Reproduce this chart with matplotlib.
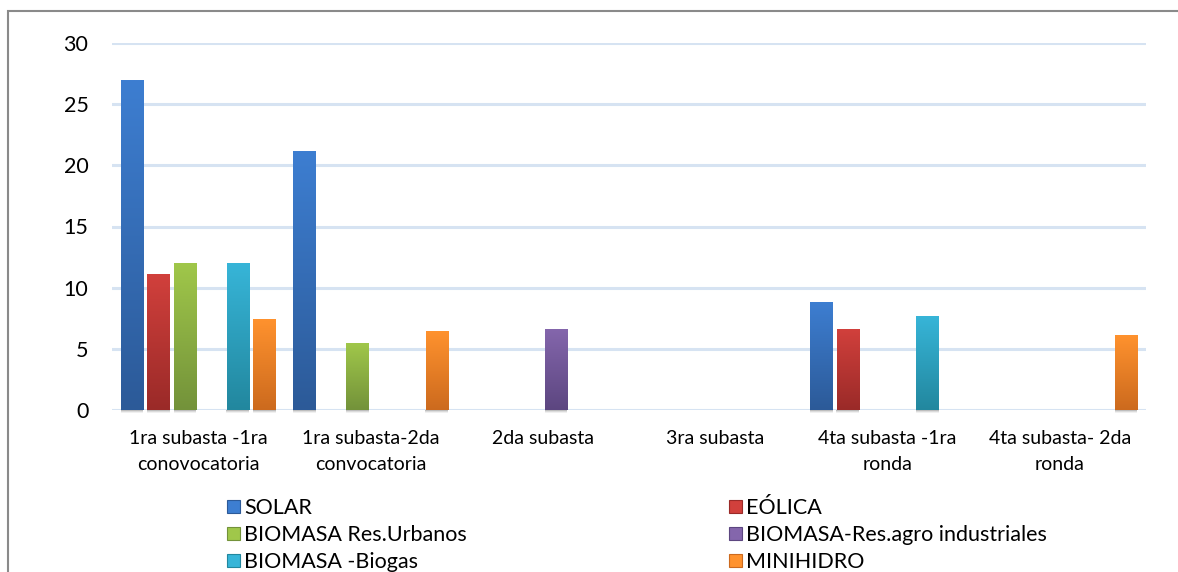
import numpy as np
import matplotlib
matplotlib.use("Agg")
import matplotlib.pyplot as plt
from matplotlib.colors import LinearSegmentedColormap
from matplotlib.patches import Rectangle, Patch

categories = ["1ra subasta -1ra\nconovocatoria", "1ra subasta-2da\nconvocatoria",
              "2da subasta", "3ra subasta", "4ta subasta -1ra\nronda", "4ta subasta- 2da\nronda"]
series_names = ["SOLAR", "EÓLICA", "BIOMASA Res.Urbanos",
                "BIOMASA-Res.agro industriales", "BIOMASA -Biogas", "MINIHIDRO"]
solar = [26.95, 21.15, 0, 0, 8.8, 0]
eolica = [11.05, 0, 0, 0, 6.6, 0]
bio_urbanos = [12.0, 5.45, 0, 0, 0, 0]
bio_agro = [0, 0, 6.55, 0, 0, 0]
bio_biogas = [12.0, 0, 0, 0, 7.65, 0]
minihidro = [7.4, 6.45, 0, 0, 0, 6.05]
yticks = [0, 5, 10, 15, 20, 25, 30]

series = [solar, eolica, bio_urbanos, bio_agro, bio_biogas, minihidro]
top_colors = ["#3D7ED1", "#D1403C", "#A0C74A", "#8466AC", "#37B5D8", "#FF922E"]
bot_colors = ["#2C5A98", "#9A2A28", "#73923A", "#5C4680", "#22879E", "#CC6A1E"]

plt.rcParams['font.family'] = ['Lato', 'DejaVu Sans']

fig = plt.figure(figsize=(11.78, 5.72), dpi=100)
ax = fig.add_axes([112/1178, 1-410/572, (1146-112)/1178, (410-43)/572])

# chart border
fig.patches.append(Rectangle((8/1178, -0.1), 1.2, 1-11/572+0.1, transform=fig.transFigure,
                             fill=False, edgecolor="#8a8a8a", linewidth=1.5, zorder=0))

x = np.arange(len(categories))
step = 26.4/172
bw = 22/172
grad = np.linspace(0, 1, 256).reshape(-1, 1)
for i, (vals, tc, bc) in enumerate(zip(series, top_colors, bot_colors)):
    off = (i - 2.5) * step
    bars = ax.bar(x + off, vals, width=bw, color=tc, zorder=3, linewidth=0)
    cmap = LinearSegmentedColormap.from_list("g%d" % i, [bc, tc])
    for p in bars:
        h = p.get_height()
        if h <= 0:
            p.set_visible(False)
            continue
        x0 = p.get_x()
        w = p.get_width()
        ax.imshow(grad, cmap=cmap, origin="lower", aspect="auto",
                  extent=(x0, x0 + w, 0, h), zorder=4, interpolation="bilinear")
        # soft shadow under bar
        for k, a in enumerate([0.45, 0.25, 0.1]):
            ax.add_patch(Rectangle((x0 - 0.002, -0.09 * (k + 1)), w + 0.004, 0.09,
                                   facecolor="#707070", alpha=a, linewidth=0,
                                   clip_on=False, zorder=2))

ax.set_xlim(-0.5, len(categories) - 0.5)
ax.set_ylim(0, 30)
ax.set_yticks(yticks)
ax.set_yticklabels([str(t) for t in yticks], fontsize=15.5)
ax.set_xticks(x)
ax.set_xticklabels(categories, fontsize=14, linespacing=1.6)
ax.tick_params(axis="both", length=0, colors="#000000")
ax.tick_params(axis="y", pad=17)
ax.tick_params(axis="x", pad=14.5)
for s in ax.spines.values():
    s.set_visible(False)
ax.grid(axis="y", color="#D6E3F2", linewidth=2.2, zorder=1)
ax.set_axisbelow(True)
ax.patch.set_alpha(0)

handles = [Patch(facecolor=top_colors[i], edgecolor=bot_colors[i], linewidth=0.8) for i in range(6)]
leg_kw = dict(frameon=False, fontsize=15.5, handlelength=0.6, handleheight=0.6,
              handletextpad=0.2, labelspacing=0.33, borderpad=0, borderaxespad=0,
              loc="upper left")
fig.legend([handles[i] for i in (0, 2, 4)], [series_names[i] for i in (0, 2, 4)],
           bbox_to_anchor=(227/1178, 1-498/572), **leg_kw)
fig.legend([handles[i] for i in (1, 3, 5)], [series_names[i] for i in (1, 3, 5)],
           bbox_to_anchor=(729/1178, 1-498/572), **leg_kw)

fig.savefig("out.png", dpi=100)
